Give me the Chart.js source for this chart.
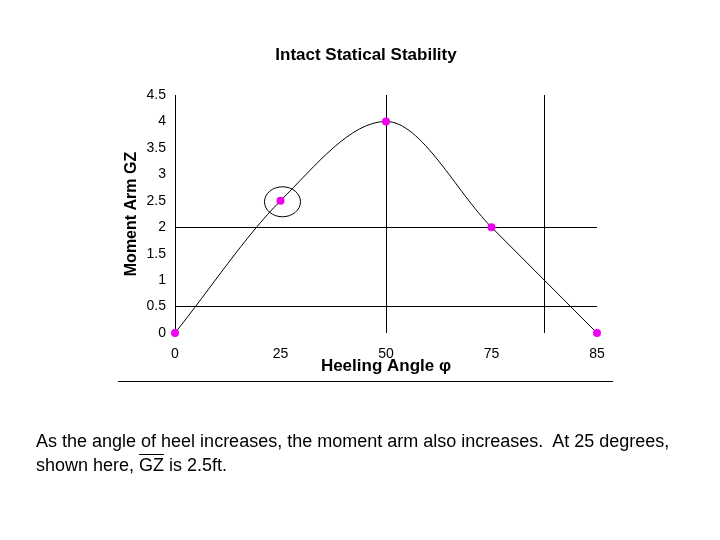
<!DOCTYPE html>
<html>
<head>
<meta charset="utf-8">
<script src="https://cdn.jsdelivr.net/npm/chart.js@4"></script>
<style>
  body { margin: 0; background: #fff; }
  #wrap { position: relative; width: 720px; height: 540px; }
  #note {
    position: absolute; left: 36px; top: 429px; width: 684px;
    font-family: "Liberation Sans", Arial, sans-serif; font-size: 18px;
    line-height: 24px; color: #000; white-space: nowrap;
  }
  .ov { text-decoration: overline; }
</style>
</head>
<body>
<div id="wrap">
  <canvas id="gzChart" width="720" height="540"></canvas>
  <div id="note">As the angle of heel increases, the moment arm also increases.&nbsp; At 25 degrees,<br>shown here, <span class="ov">GZ</span> is 2.5ft.</div>
</div>
<script>
// heeling angles (equally spaced categories) and righting arm GZ
var angleLabels = ['0', '25', '50', '75', '85'];
var gzValues = [0, 2.5, 4, 2, 0];
var yMax = 4.5;
var yStep = 0.5;
// which grid lines are drawn (x in category index units)
var xGridValues = [2, 3.5];
var yGridValues = [0.5, 2];
var circledIndex = 1;

var font = '"Liberation Sans", Arial, sans-serif';

var points = gzValues.map(function (v, i) { return { x: i, y: v }; });

// title, circle round the 25 deg point and the rule under the chart
var extras = {
  id: 'extras',
  afterDraw: function (chart) {
    var ctx = chart.ctx;
    var xs = chart.scales.x, ys = chart.scales.y;
    ctx.save();
    ctx.fillStyle = '#000';
    ctx.font = 'bold 17px ' + font;
    ctx.textAlign = 'center';
    ctx.textBaseline = 'middle';
    ctx.fillText('Intact Statical Stability', 366, 55);

    var px = xs.getPixelForValue(circledIndex);
    var py = ys.getPixelForValue(gzValues[circledIndex]);
    ctx.strokeStyle = '#000';
    ctx.lineWidth = 1;
    ctx.beginPath();
    ctx.ellipse(px + 2, py + 1, 18, 15, 0, 0, Math.PI * 2);
    ctx.stroke();

    ctx.beginPath();
    ctx.moveTo(118, 381.5);
    ctx.lineTo(613, 381.5);
    ctx.stroke();
    ctx.restore();
  }
};

function gridColor(list) {
  return function (c) {
    return c.tick && list.indexOf(c.tick.value) >= 0 ? '#000' : 'rgba(0,0,0,0)';
  };
}

new Chart(document.getElementById('gzChart'), {
  type: 'line',
  data: {
    datasets: [{
      data: points,
      borderColor: '#000',
      borderWidth: 1,
      cubicInterpolationMode: 'monotone',
      pointBackgroundColor: '#f000f0',
      pointBorderWidth: 0,
      pointRadius: 4,
      clip: false,
      fill: false
    }]
  },
  options: {
    responsive: false,
    animation: false,
    layout: { padding: { left: 122, right: 123, top: 95, bottom: 163 } },
    plugins: { legend: { display: false }, tooltip: { enabled: false } },
    scales: {
      x: {
        type: 'linear',
        min: 0,
        max: angleLabels.length - 1,
        afterFit: function (s) { s.height = 44; },
        border: { display: false },
        grid: { color: gridColor(xGridValues), lineWidth: 1, drawTicks: false },
        ticks: {
          stepSize: 0.5, autoSkip: false, maxRotation: 0, padding: 13,
          color: '#000', font: { family: font, size: 14 },
          callback: function (v) { return Number.isInteger(v) ? angleLabels[v] : ''; }
        },
        title: {
          display: true, text: 'Heeling Angle \u03c6', color: '#000', padding: 0,
          font: { family: font, size: 17, weight: 'bold' }
        }
      },
      y: {
        min: 0,
        max: yMax,
        afterFit: function (s) { s.width = 53; },
        border: { display: true, color: '#000', width: 1 },
        grid: { color: gridColor(yGridValues), lineWidth: 1, drawTicks: false },
        ticks: {
          stepSize: yStep, padding: 9, color: '#000',
          font: { family: font, size: 14 },
          callback: function (v) { return String(v); }
        },
        title: {
          display: true, text: 'Moment Arm GZ', color: '#000', padding: 0,
          font: { family: font, size: 16, weight: 'bold' }
        }
      }
    }
  },
  plugins: [extras]
});
</script>
</body>
</html>
